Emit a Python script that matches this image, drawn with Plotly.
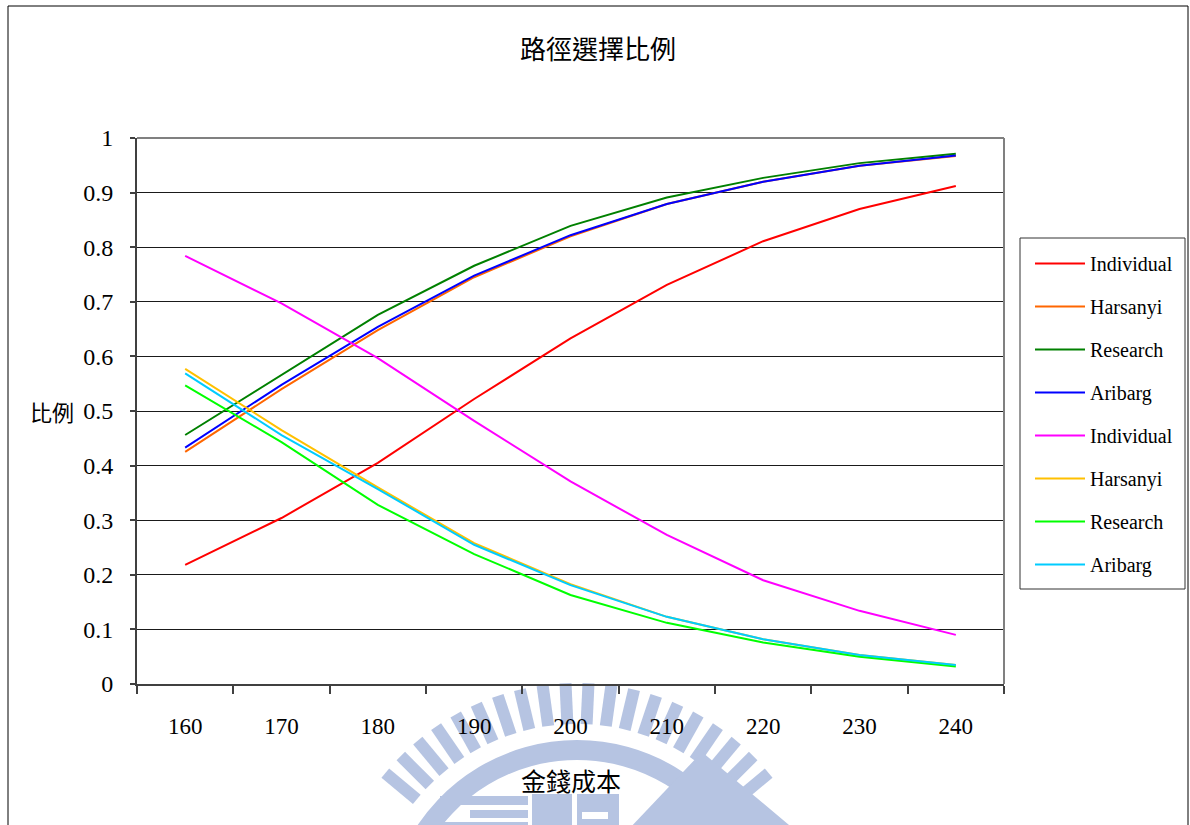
import base64
import math

import plotly.graph_objects as go

# ---- data -------------------------------------------------------------
cost = [160, 170, 180, 190, 200, 210, 220, 230, 240]

# rising curves
individual_up = [0.218, 0.304, 0.405, 0.522, 0.633, 0.731, 0.811, 0.870, 0.912]
harsanyi_up = [0.425, 0.540, 0.648, 0.745, 0.820, 0.879, 0.920, 0.949, 0.967]
research_up = [0.456, 0.566, 0.676, 0.766, 0.839, 0.891, 0.927, 0.954, 0.971]
aribarg_up = [0.433, 0.548, 0.654, 0.748, 0.822, 0.879, 0.920, 0.949, 0.968]

# falling curves
individual_down = [0.784, 0.697, 0.597, 0.482, 0.371, 0.273, 0.190, 0.134, 0.090]
harsanyi_down = [0.577, 0.465, 0.360, 0.258, 0.183, 0.123, 0.082, 0.053, 0.035]
research_down = [0.547, 0.443, 0.328, 0.238, 0.163, 0.112, 0.076, 0.050, 0.032]
aribarg_down = [0.569, 0.456, 0.357, 0.255, 0.181, 0.123, 0.082, 0.053, 0.035]

series_names = ["Individual", "Harsanyi", "Research", "Aribarg",
                "Individual", "Harsanyi", "Research", "Aribarg"]
series_values = [individual_up, harsanyi_up, research_up, aribarg_up,
                 individual_down, harsanyi_down, research_down, aribarg_down]
series_colors = ["#FF0000", "#FF6600", "#008000", "#0000FF",
                 "#FF00FF", "#FFC000", "#00FF00", "#00CCFF"]

title_text = "路徑選擇比例"
x_title = "金錢成本"
y_title = "比例"

# ---- geometry helpers (figure pixels -> paper coordinates) -------------
W, H = 1190, 825
PL, PR, PT, PB = 137, 1004, 138, 684
PW, PH = PR - PL, PB - PT


def px(x):
    return (x - PL) / PW


def py(y):
    return (PB - y) / PH


CJK = "Noto Sans CJK TC, Noto Sans CJK SC, sans-serif"
SERIF = "Liberation Serif, Times New Roman, serif"


# ---- faint school-emblem watermark under the x axis --------------------
def emblem_svg():
    col = "#B6C4E2"
    cx, cy = 577, 932
    parts = []
    # ring of radial bars
    r_in, r_out = 208, 249
    for k in range(10):
        for s in (-1, 1):
            a = s * math.radians(2.65 + 5.3 * k)
            x1, y1 = cx + r_in * math.sin(a), cy - r_in * math.cos(a)
            x2, y2 = cx + r_out * math.sin(a), cy - r_out * math.cos(a)
            parts.append(
                f'<line x1="{x1:.1f}" y1="{y1:.1f}" x2="{x2:.1f}" y2="{y2:.1f}" '
                f'stroke="{col}" stroke-width="12"/>'
            )
    # solid arc band
    ro, ri = 192, 172
    a0, a1 = math.radians(-62), math.radians(62)

    def pt(r, a):
        return cx + r * math.sin(a), cy - r * math.cos(a)

    p1, p2 = pt(ro, a0), pt(ro, a1)
    p3, p4 = pt(ri, a1), pt(ri, a0)
    parts.append(
        f'<path d="M{p1[0]:.1f},{p1[1]:.1f} A{ro},{ro} 0 0 1 {p2[0]:.1f},{p2[1]:.1f} '
        f'L{p3[0]:.1f},{p3[1]:.1f} A{ri},{ri} 0 0 0 {p4[0]:.1f},{p4[1]:.1f} Z" fill="{col}"/>'
    )
    # blocky lettering and the mountain shape
    parts.append(f'<rect x="440" y="796" width="88" height="9" fill="{col}"/>')
    parts.append(f'<rect x="470" y="810" width="58" height="8" fill="{col}"/>')
    parts.append(f'<rect x="440" y="822" width="88" height="10" fill="{col}"/>')
    parts.append(f'<rect x="532" y="794" width="40" height="40" fill="{col}"/>')
    parts.append(f'<rect x="577" y="794" width="42" height="40" fill="{col}"/>')
    parts.append(f'<rect x="582" y="812" width="26" height="7" fill="white"/>')
    parts.append(f'<polygon points="628,830 702,752 795,830" fill="{col}"/>')
    svg = (
        f'<svg xmlns="http://www.w3.org/2000/svg" width="{W}" height="{H}" '
        f'viewBox="0 0 {W} {H}">' + "".join(parts) + "</svg>"
    )
    return "data:image/svg+xml;base64," + base64.b64encode(svg.encode()).decode()


# ---- figure -----------------------------------------------------------
fig = go.Figure()
for i, (name, vals, col) in enumerate(zip(series_names, series_values, series_colors)):
    fig.add_trace(go.Scatter(
        x=cost, y=vals, name=name, mode="lines",
        line=dict(color=col, width=2),
        legendgroup=f"g{i}",
    ))

fig.update_layout(
    width=W, height=H, autosize=False,
    margin=dict(l=PL, r=W - PR, t=PT, b=H - PB, pad=0),
    paper_bgcolor="white", plot_bgcolor="white",
    font=dict(family=SERIF, color="black"),
    title=dict(text=title_text, x=598 / W, xanchor="center",
               y=1 - 50 / H, yanchor="middle", yref="container",
               font=dict(family=CJK, size=26, color="black")),
    showlegend=True,
    legend=dict(
        x=px(1030), y=py(244), xanchor="left", yanchor="top",
        bgcolor="rgba(0,0,0,0)", borderwidth=0,
        font=dict(family=SERIF, size=20, color="black"),
        tracegroupgap=14, itemwidth=50,
    ),
    xaxis=dict(
        range=[155, 245], tickvals=cost, ticktext=[str(c) for c in cost],
        ticks="", showgrid=False, zeroline=False,
        showline=True, linecolor="#404040", linewidth=2,
        tickfont=dict(family=SERIF, size=23, color="black"),
        ticklabelstandoff=20,
        minor=dict(tick0=155, dtick=10, ticks="outside", ticklen=8,
                   tickcolor="#404040", tickwidth=2, showgrid=False),
        fixedrange=True,
    ),
    yaxis=dict(
        range=[0, 1], dtick=0.1, tick0=0,
        ticks="outside", ticklen=5, tickcolor="#404040", tickwidth=2,
        showgrid=True, gridcolor="#1a1a1a", gridwidth=1, zeroline=False,
        showline=True, linecolor="#404040", linewidth=2,
        tickfont=dict(family=SERIF, size=24, color="black"),
        ticklabelstandoff=12,
        fixedrange=True,
    ),
    shapes=[
        # outer chart border
        dict(type="rect", xref="paper", yref="paper",
             x0=px(8), x1=px(1188), y0=py(832), y1=py(6),
             line=dict(color="black", width=1), fillcolor="rgba(0,0,0,0)"),
        # plot frame top and right
        dict(type="line", xref="paper", yref="paper", x0=0, x1=1, y0=1, y1=1,
             line=dict(color="#808080", width=2)),
        dict(type="line", xref="paper", yref="paper", x0=1, x1=1, y0=0, y1=1,
             line=dict(color="#808080", width=2)),
        # legend frame
        dict(type="rect", xref="paper", yref="paper",
             x0=px(1020), x1=px(1185), y0=py(589), y1=py(238),
             line=dict(color="#333333", width=1), fillcolor="rgba(0,0,0,0)"),
    ],
    annotations=[
        dict(text=y_title, xref="paper", yref="paper", x=px(52), y=py(411),
             xanchor="center", yanchor="middle", showarrow=False,
             font=dict(family=CJK, size=22, color="black")),
        dict(text=x_title, xref="paper", yref="paper", x=px(571), y=py(780),
             xanchor="center", yanchor="middle", showarrow=False,
             font=dict(family=CJK, size=25, color="black")),
    ],
    images=[dict(source=emblem_svg(), xref="paper", yref="paper",
                 x=px(0), y=py(0), sizex=W / PW, sizey=H / PH,
                 xanchor="left", yanchor="top", sizing="stretch",
                 layer="below")],
)

fig.write_html("out.html", config={"displayModeBar": False})
